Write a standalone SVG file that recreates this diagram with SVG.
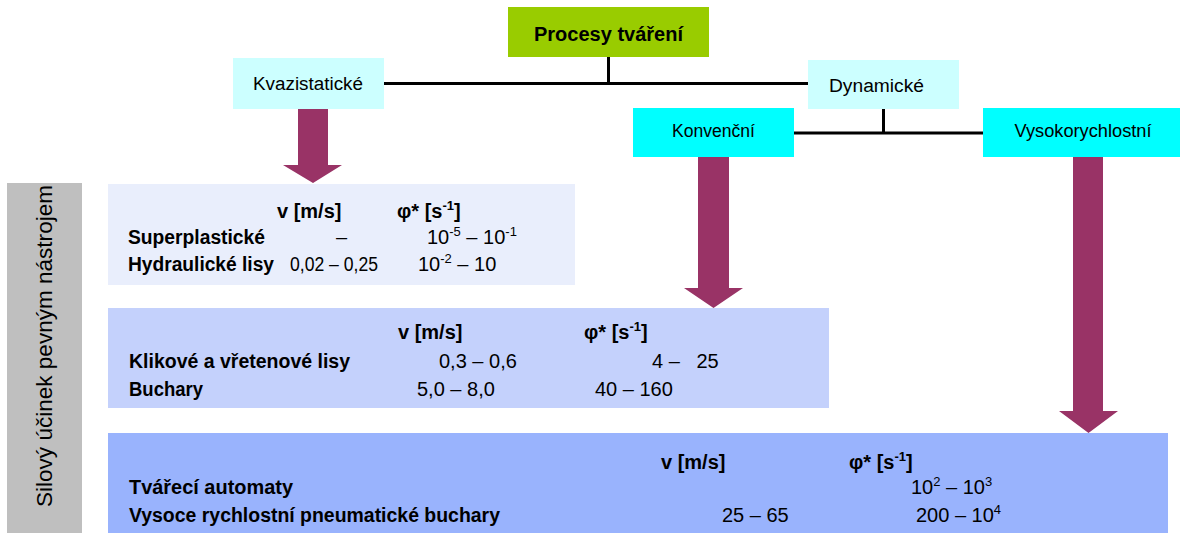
<svg xmlns="http://www.w3.org/2000/svg" width="1184" height="533" viewBox="0 0 1184 533">
<style>
  text { font-family: "Liberation Sans", Arial, sans-serif; fill: #000; }
  .title { font-size: 20px; font-weight: bold; }
  .cat { font-size: 18px; }
  .hdr { font-size: 20px; font-weight: bold; }
  .lbl { font-size: 20px; font-weight: bold; }
  .val { font-size: 20px; }
  .sup { font-size: 13px; }
  .side { font-size: 22px; }
  .line { stroke: #000; stroke-width: 3; fill: none; }
  .arrow { fill: #993366; }
</style>
<rect width="1184" height="533" fill="#ffffff"/>

<g id="connectors">
  <line class="line" x1="608.5" y1="57" x2="608.5" y2="83.5"/>
  <line class="line" x1="384" y1="83.5" x2="808" y2="83.5"/>
  <line class="line" x1="883.5" y1="109" x2="883.5" y2="133"/>
  <line class="line" x1="794" y1="133" x2="983" y2="133"/>
  <polygon class="arrow" points="298,109 328,109 328,165 342,165 313,183 283,165 298,165"/>
  <polygon class="arrow" points="698,157 729,157 729,288 743,288 713.5,308 684,288 698,288"/>
  <polygon class="arrow" points="1073,157 1103,157 1103,411 1118,411 1088.5,433 1059,411 1073,411"/>
</g>

<g id="node-procesy">
  <rect x="508" y="7" width="201" height="50" fill="#99cc00"/>
  <text class="title" x="608.5" y="41" text-anchor="middle">Procesy tváření</text>
</g>

<g id="node-kvazistaticke">
  <rect x="233" y="58" width="151" height="51" fill="#ccffff"/>
  <text class="cat" x="308" y="90" text-anchor="middle" textLength="110" lengthAdjust="spacingAndGlyphs">Kvazistatické</text>
</g>

<g id="node-dynamicke">
  <rect x="808" y="60" width="151" height="49" fill="#ccffff"/>
  <text class="cat" x="876.5" y="92" text-anchor="middle" textLength="95" lengthAdjust="spacingAndGlyphs">Dynamické</text>
</g>

<g id="node-konvencni">
  <rect x="633" y="108" width="161" height="49" fill="#00ffff"/>
  <text class="cat" x="713.5" y="137" text-anchor="middle" textLength="83" lengthAdjust="spacingAndGlyphs">Konvenční</text>
</g>

<g id="node-vysokorychlostni">
  <rect x="983" y="108" width="197" height="49" fill="#00ffff"/>
  <text class="cat" x="1083" y="137" text-anchor="middle" textLength="137" lengthAdjust="spacingAndGlyphs">Vysokorychlostní</text>
</g>

<g id="node-side">
  <rect x="7" y="183" width="75" height="350" fill="#bfbfbf"/>
  <text class="side" transform="translate(52,346) rotate(-90)" text-anchor="middle" textLength="322" lengthAdjust="spacingAndGlyphs">Silový účinek pevným nástrojem</text>
</g>

<g id="node-box1">
  <rect x="108" y="184" width="467" height="101" fill="#e9eefc"/>
  <text class="hdr" x="277" y="218">v [m/s]</text>
  <text class="hdr" x="397" y="218">φ* [s<tspan class="sup" dy="-8">-1</tspan><tspan dy="8">]</tspan></text>
  <text class="lbl" x="128" y="244" textLength="137" lengthAdjust="spacingAndGlyphs">Superplastické</text>
  <text class="val" x="336" y="244">–</text>
  <text class="val" x="427" y="244">10<tspan class="sup" dy="-8">-5</tspan><tspan dy="8"> – 10</tspan><tspan class="sup" dy="-8">-1</tspan></text>
  <text class="lbl" x="128" y="271" textLength="146" lengthAdjust="spacingAndGlyphs">Hydraulické lisy</text>
  <text class="val" x="290" y="271" textLength="88" lengthAdjust="spacingAndGlyphs">0,02 – 0,25</text>
  <text class="val" x="418" y="271">10<tspan class="sup" dy="-8">-2</tspan><tspan dy="8"> – 10</tspan></text>
</g>

<g id="node-box2">
  <rect x="108" y="308" width="721" height="100" fill="#c4d1fc"/>
  <text class="hdr" x="398" y="339">v [m/s]</text>
  <text class="hdr" x="584" y="339">φ* [s<tspan class="sup" dy="-8">-1</tspan><tspan dy="8">]</tspan></text>
  <text class="lbl" x="129" y="368" textLength="221" lengthAdjust="spacingAndGlyphs">Klikové a vřetenové lisy</text>
  <text class="val" x="439" y="368">0,3 – 0,6</text>
  <text class="val" x="652" y="368" xml:space="preserve">4 –   25</text>
  <text class="lbl" x="129" y="396" textLength="74" lengthAdjust="spacingAndGlyphs">Buchary</text>
  <text class="val" x="417" y="396">5,0 – 8,0</text>
  <text class="val" x="595" y="396">40 – 160</text>
</g>

<g id="node-box3">
  <rect x="108" y="433" width="1060" height="100" fill="#99b3fd"/>
  <text class="hdr" x="661" y="469">v [m/s]</text>
  <text class="hdr" x="849" y="469">φ* [s<tspan class="sup" dy="-8">-1</tspan><tspan dy="8">]</tspan></text>
  <text class="lbl" x="129" y="494" textLength="164" lengthAdjust="spacingAndGlyphs">Tvářecí automaty</text>
  <text class="val" x="911" y="494">10<tspan class="sup" dy="-8">2</tspan><tspan dy="8"> – 10</tspan><tspan class="sup" dy="-8">3</tspan></text>
  <text class="lbl" x="129" y="522" textLength="371" lengthAdjust="spacingAndGlyphs">Vysoce rychlostní pneumatické buchary</text>
  <text class="val" x="722" y="522">25 – 65</text>
  <text class="val" x="916" y="522">200 – 10<tspan class="sup" dy="-8">4</tspan></text>
</g>
</svg>
